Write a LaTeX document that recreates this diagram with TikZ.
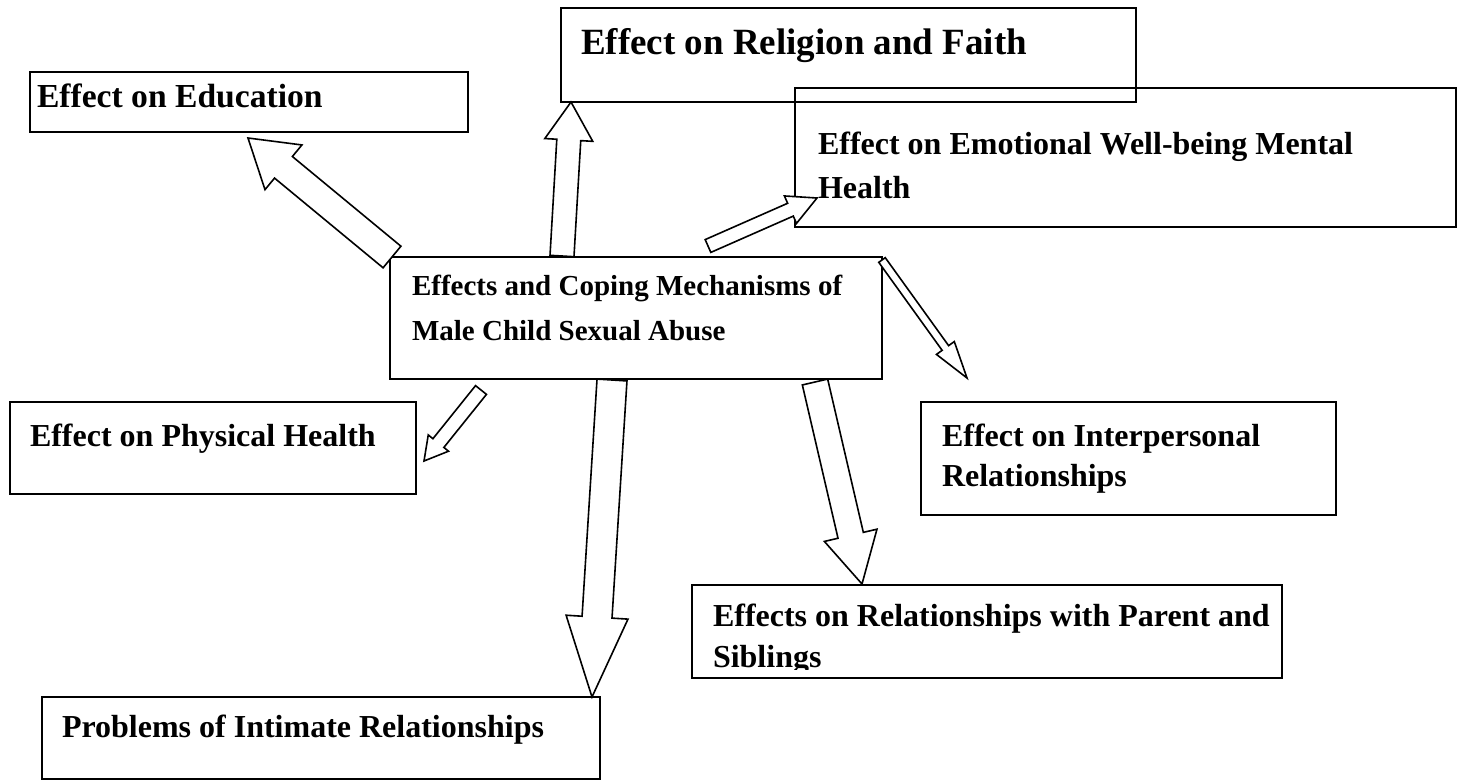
\documentclass[tikz,border=0pt]{standalone}
\usepackage{fontspec}
\setmainfont{Liberation Serif}
\usetikzlibrary{calc}
\tikzset{
  box/.style={draw, line width=2pt, anchor=north west, inner sep=0pt, outer sep=0pt},
  lbl/.style={anchor=base west, inner sep=0pt, outer sep=0pt, font=\bfseries\fontsize{32}{38}\selectfont},
  arrowline/.style={draw, line width=1.6pt, fill=white, line join=miter},
}
% #1 tail, #2 tip, #3 shaft half width, #4 head half width, #5 head length
\newcommand\blockarr[5]{%
  \coordinate (#1-#2-n) at ($(#2)!#5pt!(#1)$);
  \draw[arrowline] ($(#1)!#3pt!90:(#2)$) -- ($(#1-#2-n)!#3pt!-90:(#1)$) -- ($(#1-#2-n)!#4pt!-90:(#1)$) -- (#2) -- ($(#1-#2-n)!#4pt!90:(#1)$) -- ($(#1-#2-n)!#3pt!90:(#1)$) -- ($(#1)!#3pt!-90:(#2)$) -- cycle;}
\begin{document}
\begin{tikzpicture}[x=1pt,y=-1pt]
\useasboundingbox (0,0) rectangle (1465,782);
\fill[white] (0,0) rectangle (1465,782);

% boxes
\node[box, minimum width=438pt, minimum height=60pt] (edu) at (30,72) {};
\node[box, minimum width=575pt, minimum height=94pt] (rel) at (561,8) {};
\node[box, minimum width=661pt, minimum height=139pt] (emo) at (795,88) {};
\node[box, minimum width=492pt, minimum height=122pt] (ctr) at (390,257) {};
\node[box, minimum width=406pt, minimum height=92pt] (phy) at (10,402) {};
\node[box, minimum width=415pt, minimum height=113pt] (int) at (921,402) {};
\node[box, minimum width=590pt, minimum height=93pt] (par) at (692,585) {};
\node[box, minimum width=558pt, minimum height=82pt] (inm) at (42,697) {};

% texts
\node[lbl, font=\bfseries\fontsize{33.6}{38}\selectfont] (edut) at (37,107) {Effect on Education};
\node[lbl, font=\bfseries\fontsize{37}{42}\selectfont] (relt) at (581,54) {Effect on Religion and Faith};
\node[lbl] (emot1) at (818,154) {Effect on Emotional Well-being Mental};
\node[lbl] (emot2) at (818,198) {Health};
\node[lbl, font=\bfseries\fontsize{29}{34}\selectfont] (ctrt1) at (412,295) {Effects and Coping Mechanisms of};
\node[lbl, font=\bfseries\fontsize{29}{34}\selectfont] (ctrt2) at (412,340) {Male Child Sexual Abuse};
\node[lbl] (phyt) at (30,446) {Effect on Physical Health};
\node[lbl] (intt1) at (942,446) {Effect on Interpersonal};
\node[lbl] (intt2) at (942,486) {Relationships};
\node[lbl] (part1) at (713,626) {Effects on Relationships with Parent and};
\begin{scope}
  \clip (692,585) rectangle (1282,669);
  \node[lbl] (part2) at (713,667) {Siblings};
\end{scope}
\node[lbl] (inmt) at (62,737) {Problems of Intimate Relationships};

% arrow end points
\coordinate (tEdu) at (392,257);  \coordinate (hEdu) at (248,138);
\coordinate (tRel) at (562,256);  \coordinate (hRel) at (571,102);
\coordinate (tEmo) at (708,246);  \coordinate (hEmo) at (817,198);
\coordinate (tInt) at (882,260);  \coordinate (hInt) at (967,378);
\coordinate (tPhy) at (481,390);  \coordinate (hPhy) at (424,461);
\coordinate (tInm) at (612,380);  \coordinate (hInm) at (592,697);
\coordinate (tPar) at (815,382);  \coordinate (hPar) at (862,584);

\blockarr{tEdu}{hEdu}{14}{29}{46}
\blockarr{tRel}{hRel}{12}{24}{38}
\blockarr{tEmo}{hEmo}{7}{15}{29}
\blockarr{tInt}{hInt}{4}{11}{37}
\blockarr{tPhy}{hPhy}{7}{13}{23}
\blockarr{tInm}{hInm}{15}{31}{80}
\blockarr{tPar}{hPar}{13}{27}{50}
\end{tikzpicture}
\end{document}
